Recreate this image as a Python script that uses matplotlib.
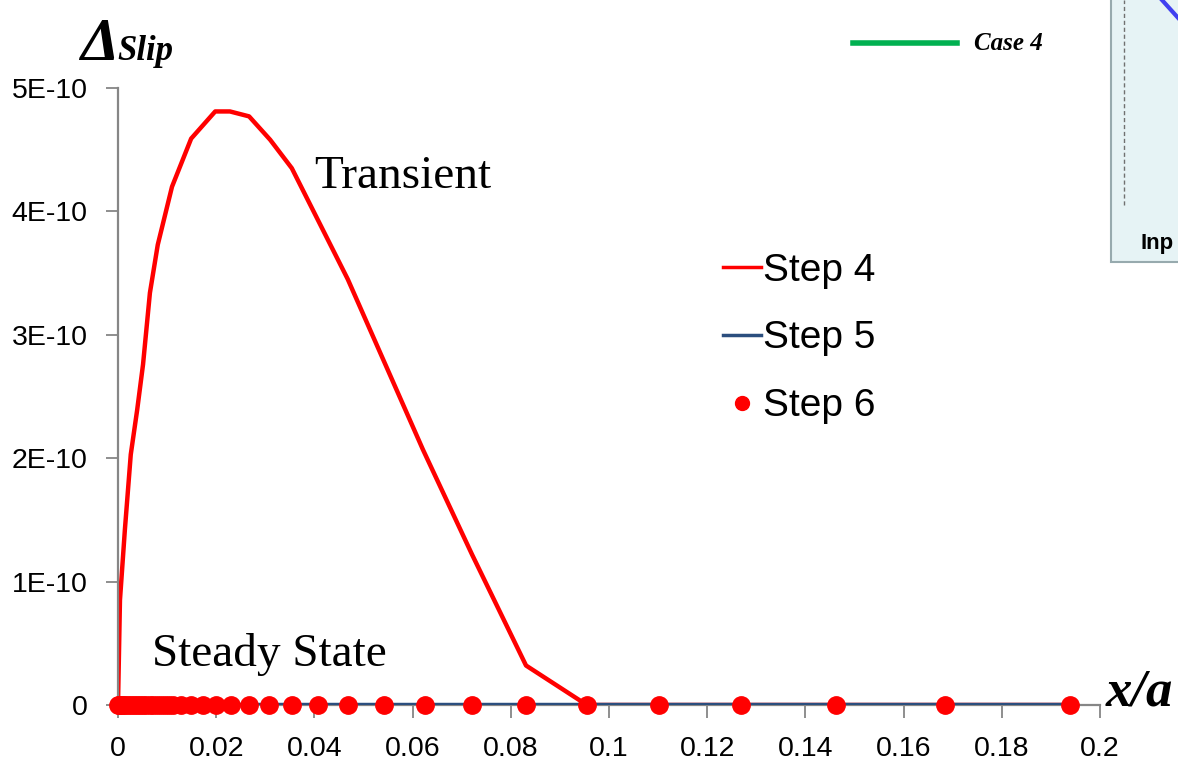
import matplotlib.pyplot as plt
from matplotlib.patches import Rectangle
from matplotlib.lines import Line2D

# mesh nodes along x/a (Step 6 markers)
x_nodes = [0.0, 0.0002, 0.0006, 0.0010, 0.0014, 0.0020, 0.0026, 0.0033, 0.0039, 0.0045,
           0.0051, 0.0058, 0.0065, 0.0072, 0.0079, 0.0088, 0.0096, 0.0104, 0.0112,
           0.0128, 0.0149, 0.0173, 0.0200, 0.0230, 0.0267, 0.0308, 0.0354, 0.0407,
           0.0468, 0.0542, 0.0625, 0.0721, 0.0831, 0.0955, 0.1102, 0.1269, 0.1462,
           0.1684, 0.1939]
step6 = [0.0] * len(x_nodes)

# Step 4 (transient) slip
x_step4 = [0.0, 0.0004, 0.0014, 0.0026, 0.0039, 0.0051, 0.0065, 0.0081, 0.0110,
           0.0149, 0.0198, 0.0228, 0.0267, 0.0310, 0.0354, 0.0468, 0.0621, 0.0721,
           0.0831, 0.0955, 0.1102, 0.1269, 0.1462, 0.1684, 0.1939]
step4 = [0.0, 0.85e-10, 1.42e-10, 2.03e-10, 2.39e-10, 2.76e-10, 3.34e-10, 3.73e-10,
         4.20e-10, 4.59e-10, 4.81e-10, 4.81e-10, 4.77e-10, 4.58e-10, 4.35e-10,
         3.45e-10, 2.07e-10, 1.22e-10, 0.32e-10, 0.0, 0.0, 0.0, 0.0, 0.0, 0.0]

# Step 5 (steady state) slip
x_step5 = [0.0, 0.1939]
step5 = [0.0, 0.0]

y_ticks = [0, 1e-10, 2e-10, 3e-10, 4e-10, 5e-10]
y_ticklabels = ['0', '1E-10', '2E-10', '3E-10', '4E-10', '5E-10']
x_ticks = [0, 0.02, 0.04, 0.06, 0.08, 0.1, 0.12, 0.14, 0.16, 0.18, 0.2]
x_ticklabels = ['0', '0.02', '0.04', '0.06', '0.08', '0.1', '0.12', '0.14', '0.16', '0.18', '0.2']

plt.rcParams['font.family'] = 'Liberation Sans'

fig = plt.figure(figsize=(11.78, 7.65), dpi=100)
ax = fig.add_axes([118 / 1178, 60 / 765, 982 / 1178, 617 / 765])

ax.plot(x_step4, step4, color='#FF0000', lw=3.2, zorder=2, label='Step 4')
ax.plot(x_step5, step5, color='#2B4E7E', lw=3.2, zorder=3, label='Step 5')
ax.plot(x_nodes, step6, 'o', color='#FF0000', ms=12.5, zorder=4, label='Step 6',
        clip_on=False)

ax.set_xlim(0, 0.2)
ax.set_ylim(0, 5e-10)
ax.set_xticks(x_ticks)
ax.set_xticklabels(x_ticklabels)
ax.set_yticks(y_ticks)
ax.set_yticklabels(y_ticklabels)
ax.tick_params(labelsize=20.5, colors='#868686', labelcolor='black', length=9, width=1.3)
ax.tick_params(axis='x', pad=13)
ax.tick_params(axis='y', pad=13)
for s in ['top', 'right']:
    ax.spines[s].set_visible(False)
for s in ['left', 'bottom']:
    ax.spines[s].set_color('#868686')
    ax.spines[s].set_linewidth(1.6)

handles = [Line2D([], [], color='#FF0000', lw=2.5),
           Line2D([], [], color='#2B4E7E', lw=2.5),
           Line2D([], [], marker='o', ls='none', color='#FF0000', ms=10)]
ax.legend(handles, ['Step 4', 'Step 5', 'Step 6'], loc='upper left',
          bbox_to_anchor=(0.58, 0.79), frameon=False, fontsize=28,
          handlelength=1.0, handletextpad=0.05, labelspacing=0.82)

ax.text(0.04, 4.19e-10, 'Transient', family='Liberation Serif', fontsize=34)
ax.text(0.007, 0.32e-10, 'Steady State', family='Liberation Serif', fontsize=34)

fig.text(80 / 1178, 1 - 45 / 765, 'Δ', family='Liberation Serif', fontsize=44,
         style='italic', fontweight='bold', va='center')
fig.text(117 / 1178, 1 - 52 / 765, 'Slip', family='Liberation Serif', fontsize=25,
         fontweight='bold', style='italic', va='center')
fig.text(1106 / 1178, 1 - 692 / 765, 'x/a', family='Liberation Serif', fontsize=38,
         fontweight='bold', style='italic', va='center')

# pasted legend fragment and inset at the top right
fig.add_artist(Line2D([853 / 1178, 957 / 1178], [1 - 43 / 765, 1 - 43 / 765],
                      color='#00B050', lw=4))
fig.text(974 / 1178, 1 - 43 / 765, 'Case 4', family='Liberation Serif', fontsize=18,
         fontweight='bold', style='italic', va='center')
fig.add_artist(Rectangle((1111 / 1178, 1 - 262 / 765), 80 / 1178, 270 / 765,
                         facecolor='#E6F3F5', edgecolor='#97AAAE', lw=1.5))
fig.add_artist(Line2D([1124 / 1178, 1124 / 1178], [1 - 205 / 765, 1.0],
                      color='#707070', lw=1, ls=(0, (3, 2))))
fig.add_artist(Line2D([1162 / 1178, 1180 / 1178], [1.0, 1 - 20 / 765],
                      color='#4040F0', lw=3))
fig.text(1141 / 1178, 1 - 244 / 765, 'Inp', fontsize=16, fontweight='bold',
         va='center')

fig.savefig('out.png', dpi=100)
